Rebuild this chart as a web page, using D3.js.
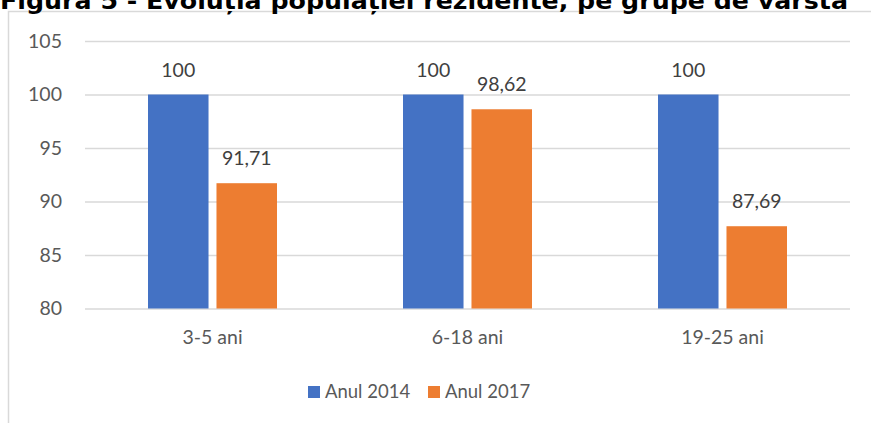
<!DOCTYPE html>
<html><head><meta charset="utf-8">
<script src="https://cdn.jsdelivr.net/npm/d3@7"></script>
<style>body{margin:0;background:#fff;}svg{display:block;}</style>
</head><body>
<svg id="c" width="871" height="423"></svg>
<script>
const titleText = "Figura 5 - Evoluția populației rezidente, pe grupe de vârstă";
const categories = ["3-5 ani", "6-18 ani", "19-25 ani"];
const seriesNames = ["Anul 2014", "Anul 2017"];
const values2014 = [100, 100, 100];
const values2017 = [91.71, 98.62, 87.69];
const yTicks = [80, 85, 90, 95, 100, 105];
const colors = ["#4472C4", "#ED7D31"];

const svg = d3.select("#c");
const font = "Lato, 'Open Sans', sans-serif";
const txt = "#595959";

// frame
svg.append("rect").attr("x", 8.5).attr("y", 11.5).attr("width", 880).attr("height", 430)
  .attr("fill", "#fff").attr("stroke", "#D9D9D9").attr("stroke-width", 1.5);

// title (clipped at top, as in the reference)
svg.append("text").attr("x", 0).attr("y", 9).text(titleText)
  .attr("font-family", "'DejaVu Sans', sans-serif").attr("font-weight", "bold")
  .attr("font-size", 23).attr("fill", "#000")
  .attr("textLength", 848).attr("lengthAdjust", "spacingAndGlyphs");

const x0 = d3.scaleBand().domain(categories).range([85, 850]);
const y = d3.scaleLinear().domain([80, 105]).range([308.5, 41]);

// grid
const yAxis = d3.axisLeft(y).tickValues(yTicks).tickSize(-(850 - 85)).tickPadding(23).tickFormat(d3.format("d"));
const gy = svg.append("g").attr("transform", "translate(85,0)").call(yAxis);
gy.select(".domain").remove();
gy.selectAll(".tick line").attr("stroke", "#D9D9D9").attr("stroke-width", 1.5);
gy.selectAll(".tick text").attr("font-family", font).attr("font-size", 19.5).attr("fill", txt);

const data = categories.map((c, i) => ({cat: c, vals: [values2014[i], values2017[i]]}));
const barW = 57, gap = 15;
const x1 = d3.scaleBand().domain([0, 1]).range([0, barW * 2 + gap]).paddingInner(gap / (barW * 2 + gap));

const groups = svg.append("g").selectAll("g").data(data).join("g")
  .attr("transform", d => `translate(${x0(d.cat) + x0.bandwidth() / 2 - (barW * 2 + gap) / 2},0)`);

groups.selectAll("rect").data(d => d.vals).join("rect")
  .attr("x", (v, i) => x1(i)).attr("width", x1.bandwidth())
  .attr("y", v => y(v)).attr("height", v => y(80) - y(v))
  .attr("fill", (v, i) => colors[i]);

const fmt = v => (Number.isInteger(v) ? String(v) : v.toFixed(2).replace(".", ","));
groups.selectAll("text").data(d => d.vals).join("text")
  .attr("x", (v, i) => x1(i) + x1.bandwidth() / 2).attr("y", v => y(v) - 18)
  .attr("text-anchor", "middle").attr("font-family", font).attr("font-size", 19.5).attr("fill", "#404040")
  .text(fmt);

// x axis labels
const xAxis = d3.axisBottom(x0).tickSize(0).tickPadding(22);
const gx = svg.append("g").attr("transform", `translate(0,${y(80)})`).call(xAxis);
gx.select(".domain").remove();
gx.selectAll(".tick text").attr("font-family", font).attr("font-size", 19.5).attr("fill", txt);

// legend
const legendX = [308, 428];
const lg = svg.append("g").selectAll("g").data(seriesNames).join("g")
  .attr("transform", (d, i) => `translate(${legendX[i]},386)`);
lg.append("rect").attr("width", 12).attr("height", 12).attr("fill", (d, i) => colors[i]);
lg.append("text").attr("x", 17).attr("y", 6).attr("dy", "0.35em")
  .attr("font-family", font).attr("font-size", 18.5).attr("fill", txt).text(d => d);
</script>
</body></html>
